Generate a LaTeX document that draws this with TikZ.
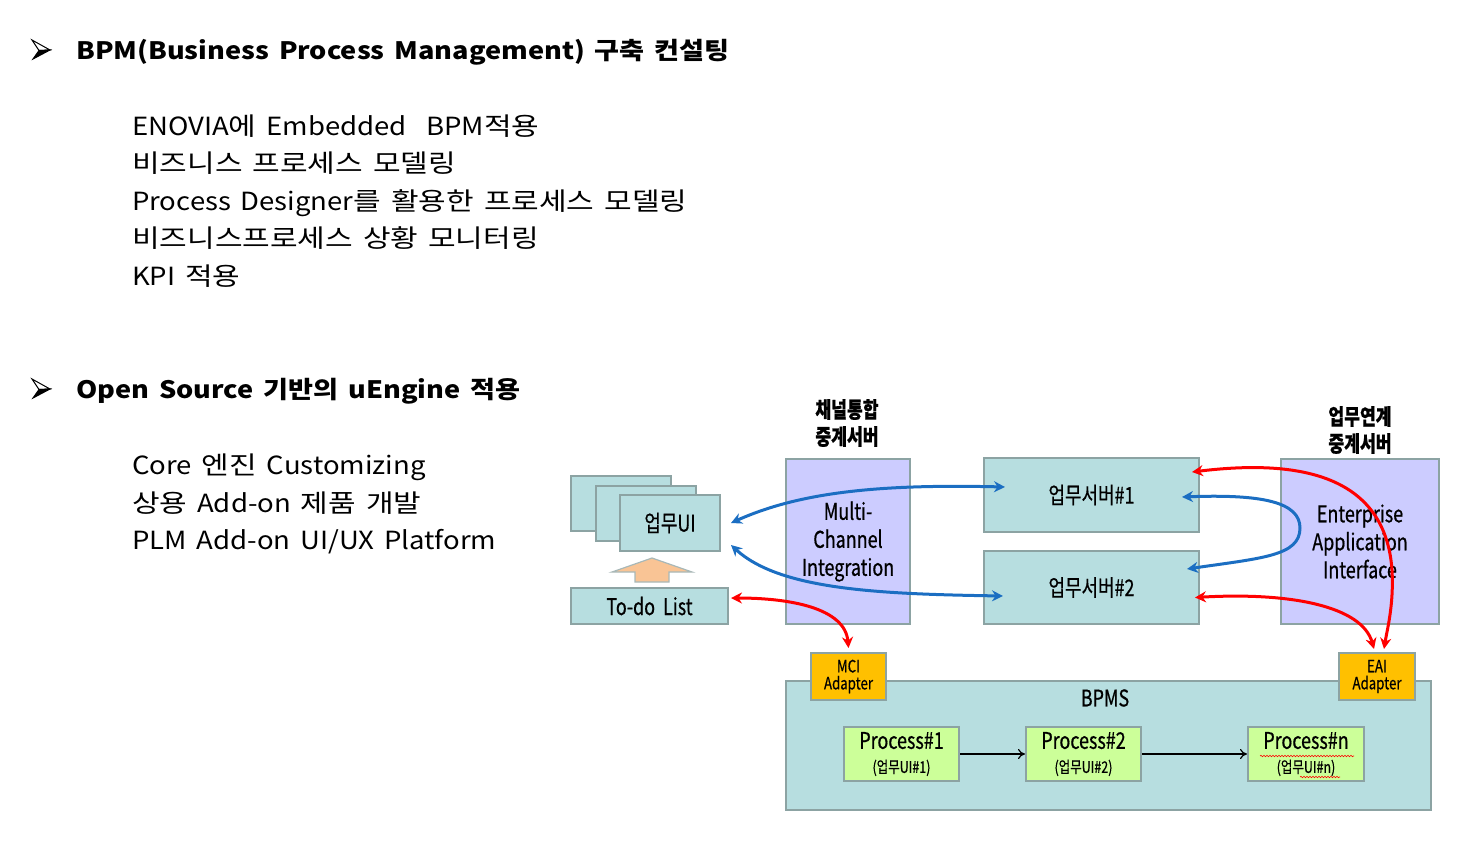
\documentclass[tikz,border=0pt]{standalone}
\usepackage{fontspec}
\setmainfont[FakeStretch=1.13, WordSpace=1.6]{Noto Sans CJK KR}
\newfontfamily\bodyf[FakeStretch=1.10, WordSpace=1.6]{Noto Sans CJK KR}
\newfontfamily\hg[FakeStretch=1.20, WordSpace=1.5]{Noto Sans CJK KR}
\newfontfamily\krnarrow[FakeStretch=0.78, FakeBold=0.6]{Noto Sans CJK KR}
\usetikzlibrary{arrows.meta,decorations.pathmorphing}
\definecolor{boxteal}{HTML}{B7DEE0}
\definecolor{boxline}{HTML}{8CA3A3}
\definecolor{boxpurple}{HTML}{CCCCFF}
\definecolor{adapterfill}{HTML}{FFC000}
\definecolor{procgreen}{HTML}{CCFF99}
\definecolor{arrblue}{HTML}{1B6EC2}
\definecolor{arrred}{HTML}{FF0000}
\definecolor{blockorange}{HTML}{F9C495}
\definecolor{blockline}{HTML}{A8B8B8}
\tikzset{
  x=1pt, y=-1pt,
  dbox/.style={draw=boxline, line width=2pt, inner sep=0pt, anchor=north west,
     align=center, font=\fontsize{23}{28}\selectfont\krnarrow},
  tealbox/.style={dbox, fill=boxteal},
  purplebox/.style={dbox, fill=boxpurple},
  adapterbox/.style={dbox, fill=adapterfill, font=\fontsize{17}{20}\selectfont\krnarrow},
  procbox/.style={dbox, fill=procgreen, minimum width=115pt, minimum height=54pt},
  bluearr/.style={draw=arrblue, line width=3pt, {Stealth[length=11pt,width=11pt]}-{Stealth[length=11pt,width=11pt]}},
  redarr/.style={draw=arrred, line width=3pt, {Stealth[length=11pt,width=11pt]}-{Stealth[length=11pt,width=11pt]}},
  procarr/.style={draw=black, line width=1.2pt, -{To[length=7pt,width=10pt]}},
  headtext/.style={anchor=base west, inner sep=0pt, font=\fontsize{24}{28}\selectfont\bfseries},
  bodytext/.style={anchor=base west, inner sep=0pt, font=\fontsize{25}{30}\selectfont\bodyf},
  bulletup/.style={fill=white, draw=black, line width=1pt, line join=miter},
  bulletdown/.style={fill=black, draw=black, line width=1pt, line join=miter},
}
\begin{document}
\begin{tikzpicture}
\useasboundingbox (0,0) rectangle (1460,847);
% ---------- text part ----------
\begin{scope}[shift={(32,40)}]
  \path[bulletup] (0,0) -- (18,10) -- (7,10.5) -- cycle;
  \path[bulletdown] (7,10.5) -- (18,10) -- (1,19) -- cycle;
\end{scope}
\node[headtext] (h1) at (76,59) {BPM(Business Process Management) 구축 컨설팅};
\node[bodytext] (t1) at (132,135) {ENOVIA{\hg 에} Embedded \ BPM{\hg 적용}};
\node[bodytext] (t2) at (132,172.5) {\hg 비즈니스 프로세스 모델링};
\node[bodytext] (t3) at (132,210) {Process Designer{\hg 를 활용한 프로세스 모델링}};
\node[bodytext] (t4) at (132,247.5) {\hg 비즈니스프로세스 상황 모니터링};
\node[bodytext] (t5) at (132,285) {KPI {\hg 적용}};

\begin{scope}[shift={(32,379)}]
  \path[bulletup] (0,0) -- (18,10) -- (7,10.5) -- cycle;
  \path[bulletdown] (7,10.5) -- (18,10) -- (1,19) -- cycle;
\end{scope}
\node[headtext] (h2) at (76,398) {Open Source 기반의 uEngine 적용};
\node[bodytext] (s1) at (132,474) {Core {\hg 엔진} Customizing};
\node[bodytext] (s2) at (132,512) {{\hg 상용} Add-on {\hg 제품 개발}};
\node[bodytext] (s3) at (132,549) {PLM Add-on UI/UX Platform};

% ---------- diagram ----------
\node[tealbox, minimum width=100pt, minimum height=55pt] (ui3) at (570,475) {};
\node[tealbox, minimum width=100pt, minimum height=55pt] (ui2) at (595,485) {};
\node[tealbox, minimum width=100pt, minimum height=56pt] (ui1) at (619,494) {업무UI};

\fill[blockorange, draw=blockline, line width=1.2pt]
  (652,558) -- (692,572) -- (669,572) -- (669,582) -- (635,582) -- (635,572) -- (612,572) -- cycle;

\node[tealbox, minimum width=157pt, minimum height=36pt] (todo) at (570,587) {To-do\ \ List};

\node[purplebox, minimum width=124pt, minimum height=165pt] (mci) at (785,458) {Multi-\\Channel\\Integration};
\node[inner sep=0pt, align=center, font=\fontsize{22}{27}\selectfont\krnarrow\bfseries] (mcilbl) at (847,423) {채널통합\\중계서버};

\node[tealbox, minimum width=215pt, minimum height=74pt] (srv1) at (983,457) {업무서버\#1};
\node[tealbox, minimum width=215pt, minimum height=73pt] (srv2) at (983,550) {업무서버\#2};

\node[purplebox, minimum width=158pt, minimum height=165pt] (eai) at (1280,458) {Enterprise\\Application\\Interface};
\node[inner sep=0pt, align=center, font=\fontsize{22}{27}\selectfont\krnarrow\bfseries] (eailbl) at (1360,430) {업무연계\\중계서버};

\node[tealbox, minimum width=645pt, minimum height=129pt] (bpms) at (785,680) {};
\node[inner sep=0pt, font=\fontsize{23}{28}\selectfont\krnarrow] (bpmslbl) at (1105,698) {BPMS};

\node[adapterbox, minimum width=75pt, minimum height=47pt] (mciad) at (810,652) {MCI\\[-3pt]Adapter};
\node[adapterbox, minimum width=76pt, minimum height=47pt] (eaiad) at (1338,652) {EAI\\[-3pt]Adapter};

\node[procbox] (p1) at (843,726) {Process\#1\\[-4pt]{\fontsize{16}{18}\selectfont(업무UI\#1)}};
\node[procbox] (p2) at (1025,726) {Process\#2\\[-4pt]{\fontsize{16}{18}\selectfont(업무UI\#2)}};
\node[procbox, minimum width=116pt] (pn) at (1247,726) {Process\#n\\[-4pt]{\fontsize{16}{18}\selectfont(업무UI\#n)}};

\draw[procarr] (p1.east) -- (p2.west);
\draw[procarr] (p2.east) -- (pn.west);

% spell-check wavy underlines
\draw[arrred, line width=0.6pt, decorate, decoration={snake, amplitude=0.7pt, segment length=3pt}]
  ([xshift=-46pt,yshift=-2pt]pn.center) -- ++(94,0);
\draw[arrred, line width=0.6pt, decorate, decoration={snake, amplitude=0.7pt, segment length=3pt}]
  ([xshift=-6pt,yshift=-23pt]pn.center) -- ++(40,0);

% blue arrows
\draw[bluearr] ([xshift=10pt]ui1.east) .. controls (800,492) and (880,484) .. ([xshift=22pt,yshift=8pt]srv1.west);
\draw[bluearr] ([xshift=10pt,yshift=-22pt]ui1.east) .. controls (780,590) and (880,594) .. ([xshift=20pt,yshift=-8.5pt]srv2.west);
\draw[bluearr] ([xshift=-18pt,yshift=-2pt]srv1.east) .. controls (1262,494) and (1300,502) .. (1300,528)
   .. controls (1300,556) and (1262,558) .. ([xshift=-13pt,yshift=18.5pt]srv2.east);

% red arrows
\draw[redarr] ([xshift=2pt,yshift=8pt]todo.east) .. controls (790,598) and (845,608) .. ([yshift=4pt]mciad.north);
\draw[redarr] ([xshift=-8pt,yshift=23pt]srv1.east) .. controls (1290,460) and (1385,470) .. (1392,570)
   .. controls (1394,605) and (1387,630) .. ([xshift=7pt,yshift=3pt]eaiad.north);
\draw[redarr] ([xshift=-5pt,yshift=-10pt]srv2.east) .. controls (1290,592) and (1362,606) .. ([xshift=-3pt,yshift=3pt]eaiad.north);
\end{tikzpicture}
\end{document}
